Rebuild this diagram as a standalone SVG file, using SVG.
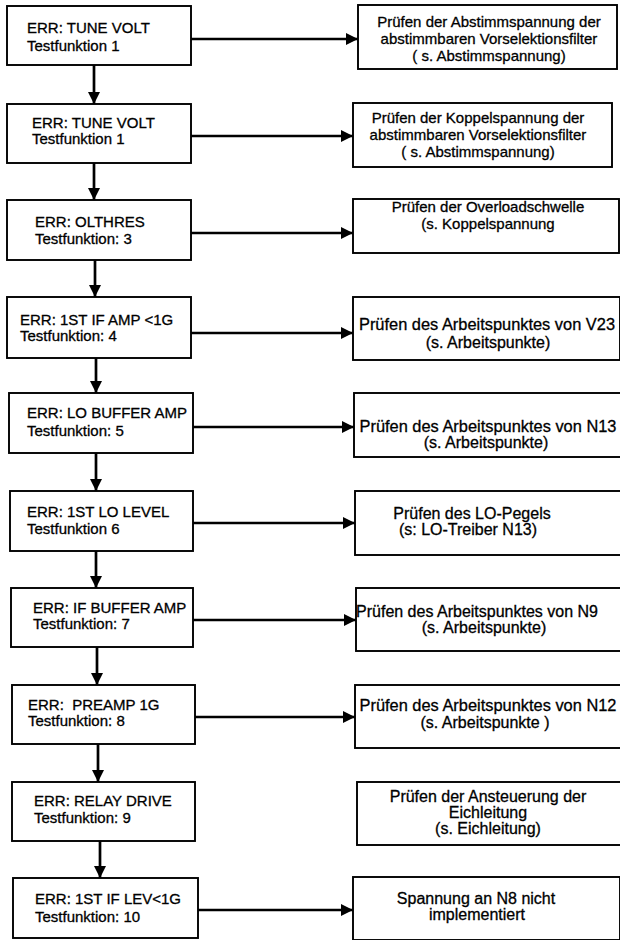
<svg xmlns="http://www.w3.org/2000/svg" width="620" height="940" viewBox="0 0 620 940">
<style>
  .box { fill: #fff; stroke: #000; stroke-width: 1.9; }
  .t { font-family: "Liberation Sans", Arial, sans-serif; font-size: 15px; fill: #000; stroke: #000; stroke-width: 0.3; }
  .r { font-size: 16px; }
  .w { font-size: 16.4px; }
  .c { text-anchor: middle; }
  .edge { stroke: #000; stroke-width: 2.7; fill: none; }
</style>
<defs>
  <marker id="ah" markerUnits="userSpaceOnUse" markerWidth="12" markerHeight="12" refX="12" refY="6" orient="auto">
    <path d="M0,0 L12,6 L0,12 z" fill="#000"/>
  </marker>
</defs>
<rect width="620" height="940" fill="#fff"/>

<g id="connectors">
  <line class="edge" x1="94" y1="65" x2="94" y2="104" marker-end="url(#ah)"/>
  <line class="edge" x1="94" y1="163" x2="94" y2="200" marker-end="url(#ah)"/>
  <line class="edge" x1="95" y1="260" x2="95" y2="297" marker-end="url(#ah)"/>
  <line class="edge" x1="96" y1="358" x2="96" y2="393" marker-end="url(#ah)"/>
  <line class="edge" x1="96" y1="453" x2="96" y2="491" marker-end="url(#ah)"/>
  <line class="edge" x1="96" y1="551" x2="96" y2="588" marker-end="url(#ah)"/>
  <line class="edge" x1="97" y1="647" x2="97" y2="685" marker-end="url(#ah)"/>
  <line class="edge" x1="98" y1="744" x2="98" y2="782" marker-end="url(#ah)"/>
  <line class="edge" x1="100" y1="841" x2="100" y2="878" marker-end="url(#ah)"/>

  <line class="edge" x1="191" y1="39" x2="358" y2="39" marker-end="url(#ah)"/>
  <line class="edge" x1="191" y1="136" x2="353" y2="136" marker-end="url(#ah)"/>
  <line class="edge" x1="191" y1="233" x2="353" y2="233" marker-end="url(#ah)"/>
  <line class="edge" x1="191" y1="333" x2="353" y2="333" marker-end="url(#ah)"/>
  <line class="edge" x1="193" y1="427" x2="354" y2="427" marker-end="url(#ah)"/>
  <line class="edge" x1="193" y1="523" x2="355" y2="523" marker-end="url(#ah)"/>
  <line class="edge" x1="193" y1="620" x2="356" y2="620" marker-end="url(#ah)"/>
  <line class="edge" x1="195" y1="717" x2="355" y2="717" marker-end="url(#ah)"/>
  <line class="edge" x1="198" y1="910" x2="353" y2="910" marker-end="url(#ah)"/>
</g>

<g id="err1"><rect class="box" x="7" y="6" width="184" height="59"/>
  <text class="t" x="27" y="33">ERR: TUNE VOLT</text><text class="t" x="27" y="51">Testfunktion 1</text></g>
<g id="err2"><rect class="box" x="7" y="104" width="184" height="59"/>
  <text class="t" x="32" y="128">ERR: TUNE VOLT</text><text class="t" x="32" y="144">Testfunktion 1</text></g>
<g id="err3"><rect class="box" x="7" y="200" width="184" height="60"/>
  <text class="t" x="35" y="227">ERR: OLTHRES</text><text class="t" x="35" y="244">Testfunktion: 3</text></g>
<g id="err4"><rect class="box" x="7" y="297" width="184" height="61"/>
  <text class="t" x="20" y="325">ERR: 1ST IF AMP &lt;1G</text><text class="t" x="20" y="341">Testfunktion: 4</text></g>
<g id="err5"><rect class="box" x="9" y="393" width="184" height="60"/>
  <text class="t" x="27" y="418">ERR: LO BUFFER AMP</text><text class="t" x="27" y="436">Testfunktion: 5</text></g>
<g id="err6"><rect class="box" x="10" y="491" width="183" height="60"/>
  <text class="t" x="27" y="517">ERR: 1ST LO LEVEL</text><text class="t" x="27" y="534">Testfunktion 6</text></g>
<g id="err7"><rect class="box" x="11" y="588" width="182" height="59"/>
  <text class="t" x="33" y="613">ERR: IF BUFFER AMP</text><text class="t" x="33" y="629">Testfunktion: 7</text></g>
<g id="err8"><rect class="box" x="12" y="685" width="183" height="59"/>
  <text class="t" x="28" y="710" xml:space="preserve">ERR:  PREAMP 1G</text><text class="t" x="28" y="726">Testfunktion: 8</text></g>
<g id="err9"><rect class="box" x="12" y="782" width="183" height="59"/>
  <text class="t" x="34" y="806">ERR: RELAY DRIVE</text><text class="t" x="34" y="823">Testfunktion: 9</text></g>
<g id="err10"><rect class="box" x="13" y="878" width="185" height="60"/>
  <text class="t" x="35" y="904">ERR: 1ST IF LEV&lt;1G</text><text class="t" x="35" y="922">Testfunktion: 10</text></g>

<g id="chk1"><rect class="box" x="358" y="5" width="259" height="64"/>
  <text class="t c" x="489" y="27">Prüfen der Abstimmspannung der</text>
  <text class="t c" x="489" y="44">abstimmbaren Vorselektionsfilter</text>
  <text class="t c" x="489" y="61">( s. Abstimmspannung)</text></g>
<g id="chk2"><rect class="box" x="353" y="103" width="259" height="64"/>
  <text class="t c" x="478" y="123">Prüfen der Koppelspannung der</text>
  <text class="t c" x="478" y="140">abstimmbaren Vorselektionsfilter</text>
  <text class="t c" x="478" y="157">( s. Abstimmspannung)</text></g>
<g id="chk3"><rect class="box" x="353" y="199" width="266" height="54"/>
  <text class="t c" x="488" y="212">Prüfen der Overloadschwelle</text>
  <text class="t c" x="488" y="229">(s. Koppelspannung</text></g>
<g id="chk4"><rect class="box" x="353" y="297" width="267" height="63"/>
  <text class="t w c" x="487" y="330">Prüfen des Arbeitspunktes von V23</text>
  <text class="t r c" x="488" y="348">(s. Arbeitspunkte)</text></g>
<g id="chk5"><rect class="box" x="354" y="393" width="267" height="64"/>
  <text class="t w c" x="488" y="432">Prüfen des Arbeitspunktes von N13</text>
  <text class="t r c" x="486" y="448">(s. Arbeitspunkte)</text></g>
<g id="chk6"><rect class="box" x="355" y="491" width="266" height="64"/>
  <text class="t r c" x="472" y="519">Prüfen des LO-Pegels</text>
  <text class="t r c" x="468" y="535">(s: LO-Treiber N13)</text></g>
<g id="chk7"><rect class="box" x="356" y="588" width="265" height="63"/>
  <text class="t r c" x="477" y="617">Prüfen des Arbeitspunktes von N9</text>
  <text class="t r c" x="484" y="633">(s. Arbeitspunkte)</text></g>
<g id="chk8"><rect class="box" x="355" y="685" width="266" height="63"/>
  <text class="t w c" x="488" y="711">Prüfen des Arbeitspunktes von N12</text>
  <text class="t r c" x="485" y="728">(s. Arbeitspunkte )</text></g>
<g id="chk9"><rect class="box" x="357" y="782" width="264" height="63"/>
  <text class="t r c" x="488" y="802">Prüfen der Ansteuerung der</text>
  <text class="t r c" x="488" y="818">Eichleitung</text>
  <text class="t r c" x="488" y="834">(s. Eichleitung)</text></g>
<g id="chk10"><rect class="box" x="353" y="877" width="267" height="63"/>
  <text class="t r c" x="476" y="904">Spannung an N8 nicht</text>
  <text class="t r c" x="477" y="920">implementiert</text></g>
</svg>
